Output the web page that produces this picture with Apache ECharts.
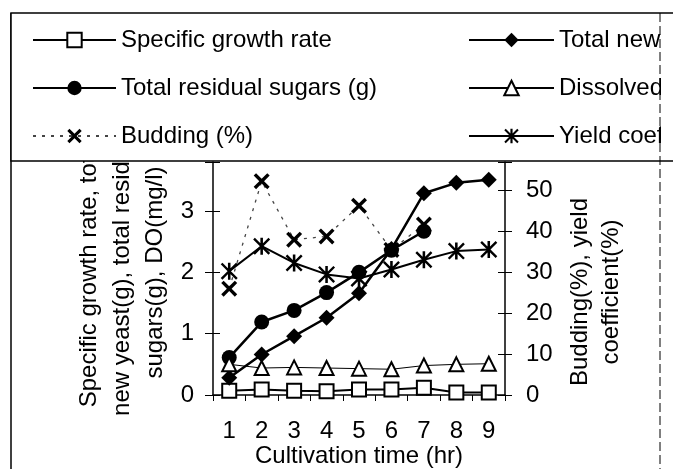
<!DOCTYPE html>
<html>
<head>
<meta charset="utf-8">
<script src="https://cdn.jsdelivr.net/npm/echarts@6/dist/echarts.min.js"></script>
<style>
html,body{margin:0;padding:0;background:#fff;}
#c{width:673px;height:469px;}
</style>
</head>
<body>
<div id="c"></div>
<script>
const categories = ['1','2','3','4','5','6','7','8','9'];
const specificGrowth = [0.07, 0.09, 0.07, 0.06, 0.09, 0.09, 0.12, 0.04, 0.04];
const totalNewYeast = [0.28, 0.66, 0.96, 1.26, 1.66, 2.38, 3.29, 3.46, 3.51];
const residualSugars = [0.61, 1.19, 1.38, 1.67, 2.0, 2.36, 2.67];
const dissolvedO2 = [0.50, 0.44, 0.45, 0.44, 0.43, 0.42, 0.48, 0.50, 0.51];
const budding = [26, 52.3, 38, 38.8, 46.3, 35.5, 41.7];
const yieldCoef = [30.3, 36.4, 32.3, 29.5, 28.5, 30.7, 33.1, 35.2, 35.6];
const leftTicks = [0, 1, 2, 3];
const rightTicks = [0, 10, 20, 30, 40, 50];

const FONT = '"Liberation Sans", Arial, sans-serif';
const xPath = 'path://M0,3 L3,0 L10,7 L17,0 L20,3 L13,10 L20,17 L17,20 L10,13 L3,20 L0,17 L7,10 Z';
const starPath = 'path://M8.5,0 H11.5 V20 H8.5 Z M2,0 L20,18 L18,20 L0,2 Z M18,0 L20,2 L2,20 L0,18 Z';

const chart = echarts.init(document.getElementById('c'), null, {renderer: 'canvas'});

const baseY = {
  type: 'value', min: 0, splitLine: {show: false}
};
const labelStyle = {fontSize: 24, color: '#000', fontFamily: FONT};

chart.setOption({
  animation: false,
  backgroundColor: '#fff',
  textStyle: {fontFamily: FONT, color: '#000'},
  grid: {left: 213, right: 168, top: 162, bottom: 74, containLabel: false},
  legend: [
    {
      orient: 'vertical', left: 27, top: 23, itemWidth: 83, itemHeight: 18, itemGap: 24,
      textStyle: {fontSize: 24, color: '#000', fontFamily: FONT},
      data: ['Specific growth rate', 'Total residual sugars (g)', 'Budding (%)']
    },
    {
      orient: 'vertical', left: 463, top: 23, itemWidth: 85, itemHeight: 18, itemGap: 24,
      textStyle: {fontSize: 24, color: '#000', fontFamily: FONT},
      data: ['Total new yeast (g)', 'Dissolved oxygen (mg/l)', 'Yield coefficient (%)']
    }
  ],
  xAxis: {
    type: 'category', data: categories, boundaryGap: true,
    axisLine: {lineStyle: {color: '#000', width: 1.5}},
    axisTick: {show: true, inside: false, length: 6, lineStyle: {color: '#000'}},
    axisLabel: Object.assign({margin: 24}, labelStyle),
    name: 'Cultivation time (hr)', nameLocation: 'middle', nameGap: 47,
    nameTextStyle: {fontSize: 24, color: '#000', fontFamily: FONT}
  },
  yAxis: [
    Object.assign({}, baseY, {
      position: 'left', max: 3.8, interval: 1,
      axisLine: {show: true, lineStyle: {color: '#000', width: 1.5}},
      axisTick: {show: true, length: 8, lineStyle: {color: '#000'}},
      axisLabel: Object.assign({margin: 19, formatter: v => leftTicks.includes(v) ? String(v) : ''}, labelStyle),
      name: 'Specific growth rate, total\nnew yeast(g), total residual\nsugars(g), DO(mg/l)',
      nameLocation: 'middle', nameGap: 41,
      nameTextStyle: {fontSize: 24, color: '#000', fontFamily: FONT, lineHeight: 33, padding: [0, 0, 0, 12]}
    }),
    Object.assign({}, baseY, {
      position: 'right', max: 57, interval: 10,
      axisLine: {show: true, lineStyle: {color: '#000', width: 1.5}},
      axisTick: {show: true, length: 7, lineStyle: {color: '#000'}},
      axisLabel: Object.assign({margin: 21, formatter: v => rightTicks.includes(v) ? String(v) : ''}, labelStyle),
      name: 'Budding(%), yield\ncoefficient(%)',
      nameLocation: 'middle', nameGap: 60,
      nameTextStyle: {fontSize: 24, color: '#000', fontFamily: FONT, lineHeight: 31, padding: [0, 27, 0, 0]}
    }),
    Object.assign({}, baseY, {
      position: 'left', max: 3.8, interval: 1,
      axisLine: {show: false}, axisLabel: {show: false},
      axisTick: {show: true, inside: true, length: 7, lineStyle: {color: '#000'}}
    }),
    Object.assign({}, baseY, {
      position: 'right', max: 57, interval: 10,
      axisLine: {show: false}, axisLabel: {show: false},
      axisTick: {show: true, inside: true, length: 7, lineStyle: {color: '#000'}}
    })
  ],
  series: [
    {
      name: 'Specific growth rate', type: 'line', yAxisIndex: 0, data: specificGrowth,
      symbol: 'rect', symbolSize: 14, showAllSymbol: true, z: 3,
      itemStyle: {color: '#fff', borderColor: '#000', borderWidth: 2},
      lineStyle: {color: '#000', width: 2}
    },
    {
      name: 'Total new yeast (g)', type: 'line', yAxisIndex: 0, data: totalNewYeast,
      symbol: 'diamond', symbolSize: 16, showAllSymbol: true,
      itemStyle: {color: '#000'}, lineStyle: {color: '#000', width: 2.5}
    },
    {
      name: 'Total residual sugars (g)', type: 'line', yAxisIndex: 0, data: residualSugars,
      symbol: 'circle', symbolSize: 15, showAllSymbol: true,
      itemStyle: {color: '#000'}, lineStyle: {color: '#000', width: 2.5}
    },
    {
      name: 'Dissolved oxygen (mg/l)', type: 'line', yAxisIndex: 0, data: dissolvedO2,
      symbol: 'triangle', symbolSize: 14, showAllSymbol: true,
      itemStyle: {color: '#fff', borderColor: '#000', borderWidth: 2},
      lineStyle: {color: '#000', width: 1}
    },
    {
      name: 'Budding (%)', type: 'line', yAxisIndex: 1, data: budding,
      symbol: xPath, symbolSize: 16, showAllSymbol: true,
      itemStyle: {color: '#000'}, lineStyle: {color: '#444', width: 1.3, type: [3, 6]}
    },
    {
      name: 'Yield coefficient (%)', type: 'line', yAxisIndex: 1, data: yieldCoef,
      symbol: starPath, symbolSize: 17, showAllSymbol: true,
      itemStyle: {color: '#000'}, lineStyle: {color: '#000', width: 2}
    }
  ],
  graphic: [
    {type: 'line', z: 1, shape: {x1: 11, y1: 13, x2: 11, y2: 469}, style: {stroke: '#000', lineWidth: 1.5}},
    {type: 'rect', z: 3, shape: {x: 11, y: 13, width: 700, height: 148}, style: {fill: '#fff', stroke: '#000', lineWidth: 1.5}},
    {type: 'rect', z: 50, shape: {x: 661, y: 15, width: 20, height: 144}, style: {fill: '#fff'}},
    {type: 'line', z: 51, shape: {x1: 660, y1: 13, x2: 660, y2: 469}, style: {stroke: '#000', lineWidth: 1, lineDash: [9, 4]}}
  ]
});
</script>
</body>
</html>
